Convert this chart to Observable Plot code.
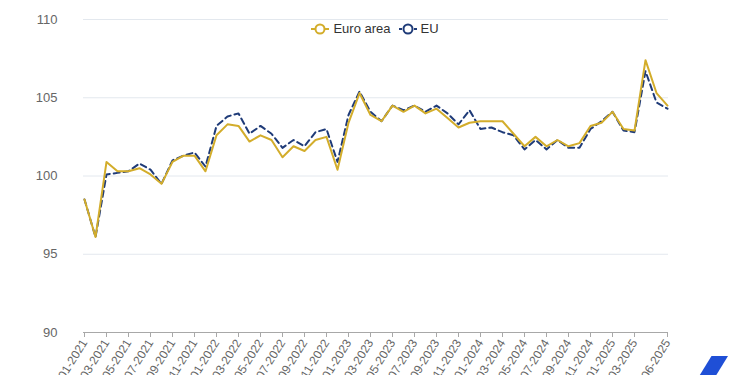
<!DOCTYPE html>
<html>
<head>
<meta charset="utf-8">
<script src="https://cdn.jsdelivr.net/npm/d3@7"></script>
<script src="https://cdn.jsdelivr.net/npm/@observablehq/plot@0.6"></script>
<style>
  html, body { margin: 0; padding: 0; background: #fff; }
  #wrap { position: relative; width: 750px; height: 375px; overflow: hidden; font-family: "Liberation Sans", Arial, sans-serif; }
  #legend { position: absolute; top: 21px; left: 0; width: 750px; display: flex; justify-content: center; gap: 8px; font-size: 13px; color: #333; }
  .item { display: flex; align-items: center; gap: 4px; }
  #logo { position: absolute; left: 698px; top: 356px; width: 30px; height: 22px; background: #1f4fd6; clip-path: polygon(45% 0, 100% 0, 55% 100%, 0 100%); }
</style>
</head>
<body>
<div id="wrap">
  <div id="chart"></div>
  <div id="legend"></div>
  <div id="logo"></div>
</div>
<script>
const months = ["01-2021","02-2021","03-2021","04-2021","05-2021","06-2021","07-2021","08-2021","09-2021","10-2021","11-2021","12-2021",
"01-2022","02-2022","03-2022","04-2022","05-2022","06-2022","07-2022","08-2022","09-2022","10-2022","11-2022","12-2022",
"01-2023","02-2023","03-2023","04-2023","05-2023","06-2023","07-2023","08-2023","09-2023","10-2023","11-2023","12-2023",
"01-2024","02-2024","03-2024","04-2024","05-2024","06-2024","07-2024","08-2024","09-2024","10-2024","11-2024","12-2024",
"01-2025","02-2025","03-2025","04-2025","05-2025","06-2025"];

const euroArea = [98.5, 96.1, 100.9, 100.3, 100.3, 100.5, 100.1, 99.5, 100.9, 101.3, 101.3, 100.3,
102.6, 103.3, 103.2, 102.2, 102.6, 102.3, 101.2, 101.9, 101.6, 102.3, 102.5, 100.4,
103.4, 105.3, 103.9, 103.5, 104.5, 104.1, 104.5, 104.0, 104.3, 103.7, 103.1, 103.4,
103.5, 103.5, 103.5, 102.7, 101.9, 102.5, 101.9, 102.3, 101.9, 102.1, 103.2, 103.4,
104.1, 103.0, 102.9, 107.4, 105.3, 104.5];

const eu = [98.5, 96.1, 100.1, 100.2, 100.3, 100.8, 100.4, 99.5, 101.0, 101.3, 101.5, 100.6,
103.2, 103.8, 104.0, 102.7, 103.2, 102.7, 101.8, 102.3, 101.9, 102.8, 103.0, 100.9,
103.9, 105.4, 104.1, 103.5, 104.5, 104.2, 104.5, 104.1, 104.5, 104.0, 103.3, 104.2,
103.0, 103.1, 102.8, 102.6, 101.7, 102.3, 101.7, 102.3, 101.8, 101.8, 103.0, 103.5,
104.1, 102.9, 102.8, 106.7, 104.7, 104.3];

const tickLabels = ["01-2021","03-2021","05-2021","07-2021","09-2021","11-2021",
"01-2022","03-2022","05-2022","07-2022","09-2022","11-2022",
"01-2023","03-2023","05-2023","07-2023","09-2023","11-2023",
"01-2024","03-2024","05-2024","07-2024","09-2024","11-2024",
"01-2025","03-2025","06-2025"];

const yTicks = [90, 95, 100, 105, 110];

const seriesNames = ["Euro area", "EU"];
const seriesColors = ["#d3ad2b", "#1f3b78"];
const seriesDash = [null, "6,4"];

const euroData = months.map((m, i) => ({month: m, value: euroArea[i]}));
const euData = months.map((m, i) => ({month: m, value: eu[i]}));

const chart = Plot.plot({
  width: 750,
  height: 375,
  marginLeft: 83,
  marginRight: 82,
  marginTop: 19,
  marginBottom: 43,
  style: {fontFamily: "'Liberation Sans', Arial, sans-serif", background: "#fff"},
  x: {type: "point", domain: months, padding: 0, label: null},
  y: {domain: [90, 110], label: null},
  marks: [
    Plot.gridY(yTicks.filter(t => t > 90), {stroke: "#e3e8ee", strokeOpacity: 1, strokeWidth: 1}),
    Plot.ruleY([90], {stroke: "#a8a8a8", strokeWidth: 1}),
    Plot.axisY(yTicks, {tickSize: 0, tickPadding: 26, fontSize: 13, fill: "#666"}),
    Plot.axisX(tickLabels, {tickSize: 5, stroke: "#a8a8a8", tickRotate: -58, fontSize: 12, fill: "#666", tickPadding: 3}),
    Plot.line(euData, {x: "month", y: "value", stroke: seriesColors[1], strokeWidth: 2, strokeDasharray: seriesDash[1]}),
    Plot.line(euroData, {x: "month", y: "value", stroke: seriesColors[0], strokeWidth: 2})
  ]
});
document.getElementById("chart").appendChild(chart);

const legend = document.getElementById("legend");
seriesNames.forEach((name, i) => {
  const item = document.createElement("div");
  item.className = "item";
  const dash = seriesDash[i] ? `stroke-dasharray="3,2"` : "";
  item.innerHTML = `<svg width="18" height="14"><line x1="0" y1="7" x2="18" y2="7" stroke="${seriesColors[i]}" stroke-width="2" ${dash}/><circle cx="9" cy="7" r="4.5" fill="#fff" stroke="${seriesColors[i]}" stroke-width="2"/></svg><span>${name}</span>`;
  legend.appendChild(item);
});
</script>
</body>
</html>
